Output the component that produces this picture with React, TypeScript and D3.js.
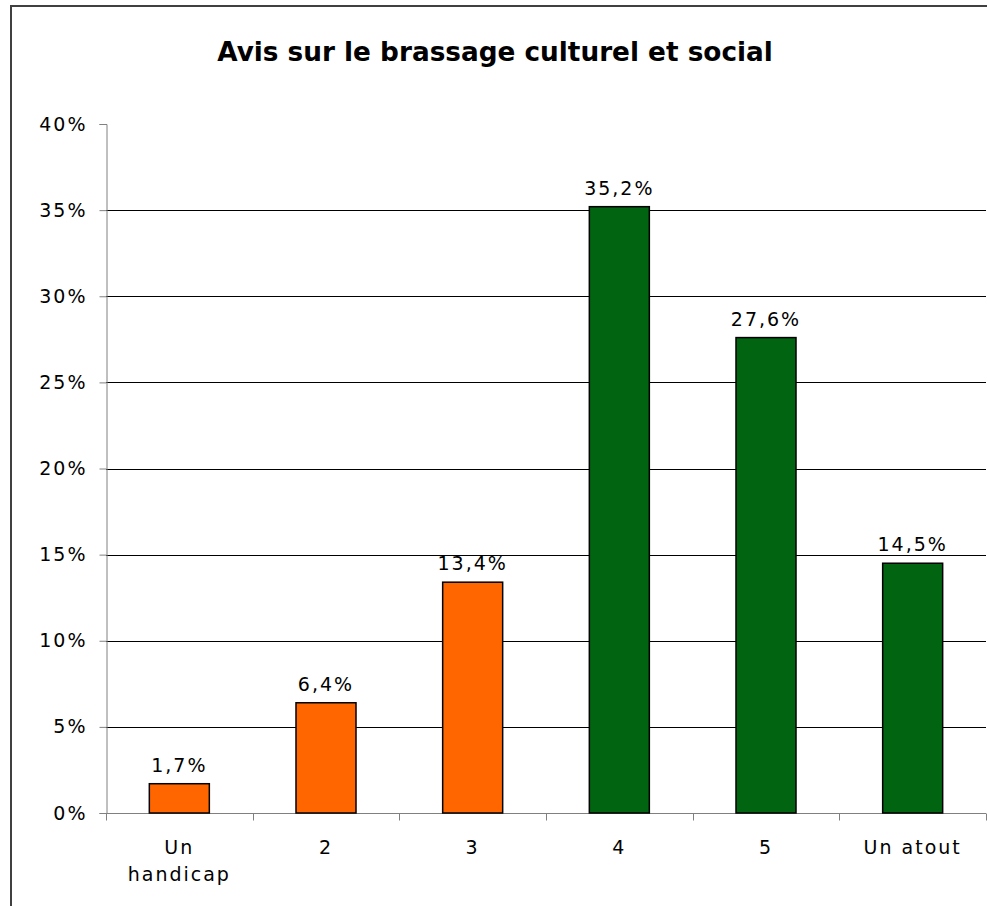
import * as d3 from "d3";
import { useEffect, useRef } from "react";

const categories = ["Un handicap", "2", "3", "4", "5", "Un atout"];
const values = [1.7, 6.4, 13.4, 35.2, 27.6, 14.5];
const barColors = ["#FF6600", "#FF6600", "#FF6600", "#006411", "#006411", "#006411"];
const yTicks = [0, 5, 10, 15, 20, 25, 30, 35, 40];

export default function App() {
  const svgRef = useRef<SVGSVGElement | null>(null);
  const width = 987;
  const height = 906;

  useEffect(() => {
    document.body.style.margin = "0";
    const svg = d3.select(svgRef.current);
    svg.selectAll("*").remove();
    const font = "'DejaVu Sans', Verdana, sans-serif";

    const left = 106;
    const right = 986;
    const top = 124;
    const bottom = 813;

    const x = d3.scaleBand<string>().domain(categories).range([left, right]).paddingInner(0).paddingOuter(0);
    const y = d3.scaleLinear().domain([0, 40]).range([bottom, top]);

    // outer frame
    svg
      .append("rect")
      .attr("x", 11)
      .attr("y", 6)
      .attr("width", 1000)
      .attr("height", 950)
      .attr("fill", "white")
      .attr("stroke", "#404040")
      .attr("stroke-width", 2);

    svg
      .append("text")
      .attr("x", 495)
      .attr("y", 61)
      .attr("text-anchor", "middle")
      .attr("font-family", font)
      .attr("font-weight", "bold")
      .attr("font-size", 26.3)
      .attr("fill", "black")
      .text("Avis sur le brassage culturel et social");

    // gridlines
    svg
      .append("g")
      .selectAll("line")
      .data(yTicks.filter((t) => t > 0 && t < 40))
      .join("line")
      .attr("x1", left)
      .attr("x2", right)
      .attr("y1", (d) => Math.round(y(d)) + 0.5)
      .attr("y2", (d) => Math.round(y(d)) + 0.5)
      .attr("stroke", "#000")
      .attr("stroke-width", 1);

    // y axis
    const yAxis = svg.append("g").attr("transform", `translate(${left + 0.5},0)`);
    yAxis
      .call(d3.axisLeft(y).tickValues(yTicks).tickSize(7).tickPadding(12).tickFormat((d) => `${d}%`))
      .call((g) => g.select(".domain").attr("stroke", "#808080"))
      .call((g) => g.selectAll(".tick line").attr("stroke", "#808080"))
      .call((g) =>
        g
          .selectAll(".tick text")
          .attr("font-family", font)
          .attr("font-size", 19)
          .attr("letter-spacing", 2)
          .attr("fill", "black")
      );

    // x axis
    const xAxis = svg.append("g").attr("transform", `translate(0,${bottom + 0.5})`);
    xAxis
      .append("line")
      .attr("x1", left)
      .attr("x2", right)
      .attr("stroke", "#808080");
    xAxis
      .selectAll("line.tk")
      .data([...categories.map((c) => x(c)!), right])
      .join("line")
      .attr("class", "tk")
      .attr("x1", (d) => Math.round(d) + 0.5)
      .attr("x2", (d) => Math.round(d) + 0.5)
      .attr("y1", 0)
      .attr("y2", 7)
      .attr("stroke", "#808080");

    xAxis
      .selectAll("text")
      .data(categories)
      .join("text")
      .attr("x", (d) => x(d)! + x.bandwidth() / 2)
      .attr("y", 40)
      .attr("text-anchor", "middle")
      .attr("font-family", font)
      .attr("font-size", 19)
      .attr("letter-spacing", 2)
      .attr("fill", "black")
      .each(function (d) {
        const t = d3.select(this);
        const parts = d === "Un handicap" ? ["Un", "handicap"] : [d];
        parts.forEach((p, i) => {
          t.append("tspan")
            .attr("x", x(d)! + x.bandwidth() / 2)
            .attr("dy", i === 0 ? 0 : 27)
            .text(p);
        });
      });

    // bars
    const barW = 60;
    svg
      .append("g")
      .selectAll("rect")
      .data(values)
      .join("rect")
      .attr("x", (_, i) => x(categories[i])! + x.bandwidth() / 2 - barW / 2)
      .attr("y", (d) => y(d))
      .attr("width", barW)
      .attr("height", (d) => bottom - y(d))
      .attr("fill", (_, i) => barColors[i])
      .attr("stroke", "black")
      .attr("stroke-width", 1.5);

    // value labels
    svg
      .append("g")
      .selectAll("text")
      .data(values)
      .join("text")
      .attr("x", (_, i) => x(categories[i])! + x.bandwidth() / 2)
      .attr("y", (d) => y(d) - 12)
      .attr("text-anchor", "middle")
      .attr("font-family", font)
      .attr("font-size", 19)
      .attr("letter-spacing", 2)
      .attr("fill", "black")
      .text((d) => `${d.toFixed(1).replace(".", ",")}%`);
  }, []);

  return (
    <div>
      <svg ref={svgRef} width={width} height={height} style={{ display: "block" }}></svg>
    </div>
  );
}
